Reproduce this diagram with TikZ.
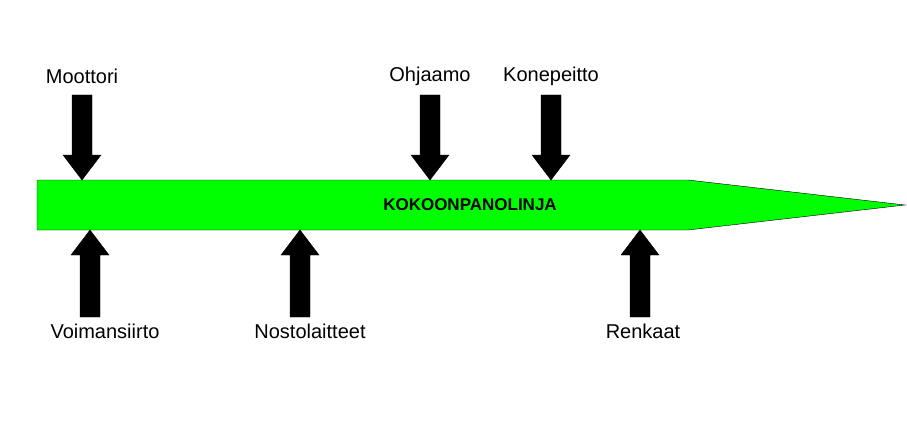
\documentclass[tikz,border=0pt]{standalone}
\usepackage{fontspec}
\setmainfont{Liberation Sans}
\begin{document}
\begin{tikzpicture}[x=1pt,y=-1pt,
  lbl/.style={font=\fontsize{20}{24}\selectfont, inner sep=0pt},
  blk/.style={fill=black,draw=black}]
\useasboundingbox (0,0) rectangle (907,425);
\draw[fill=green,draw=black] (37,180) -- (688,180) -- (905,205) -- (688,230) -- (37,230) -- cycle;
\node[font=\bfseries\fontsize{17}{20}\selectfont] (line) at (470,205) {KOKOONPANOLINJA};
% down arrows
\foreach \x/\t/\n in {82/Moottori/a,430/Ohjaamo/b,551/Konepeitto/c}{
  \fill[blk] (\x-10,95) -- (\x+10,95) -- (\x+10,155) -- (\x+19,155) -- (\x,180) -- (\x-19,155) -- (\x-10,155) -- cycle;
  \node[lbl] (\n) at (\x,76) {\t};
}
\foreach \x/\t/\n in {90/Voimansiirto/d,300/Nostolaitteet/e,640/Renkaat/f}{
  \fill[blk] (\x-10,317) -- (\x+10,317) -- (\x+10,255) -- (\x+19,255) -- (\x,230) -- (\x-19,255) -- (\x-10,255) -- cycle;
}
\node[lbl] (d) at (105,331) {Voimansiirto};
\node[lbl] (e) at (310,331) {Nostolaitteet};
\node[lbl] (f) at (643,331) {Renkaat};
\end{tikzpicture}
\end{document}
